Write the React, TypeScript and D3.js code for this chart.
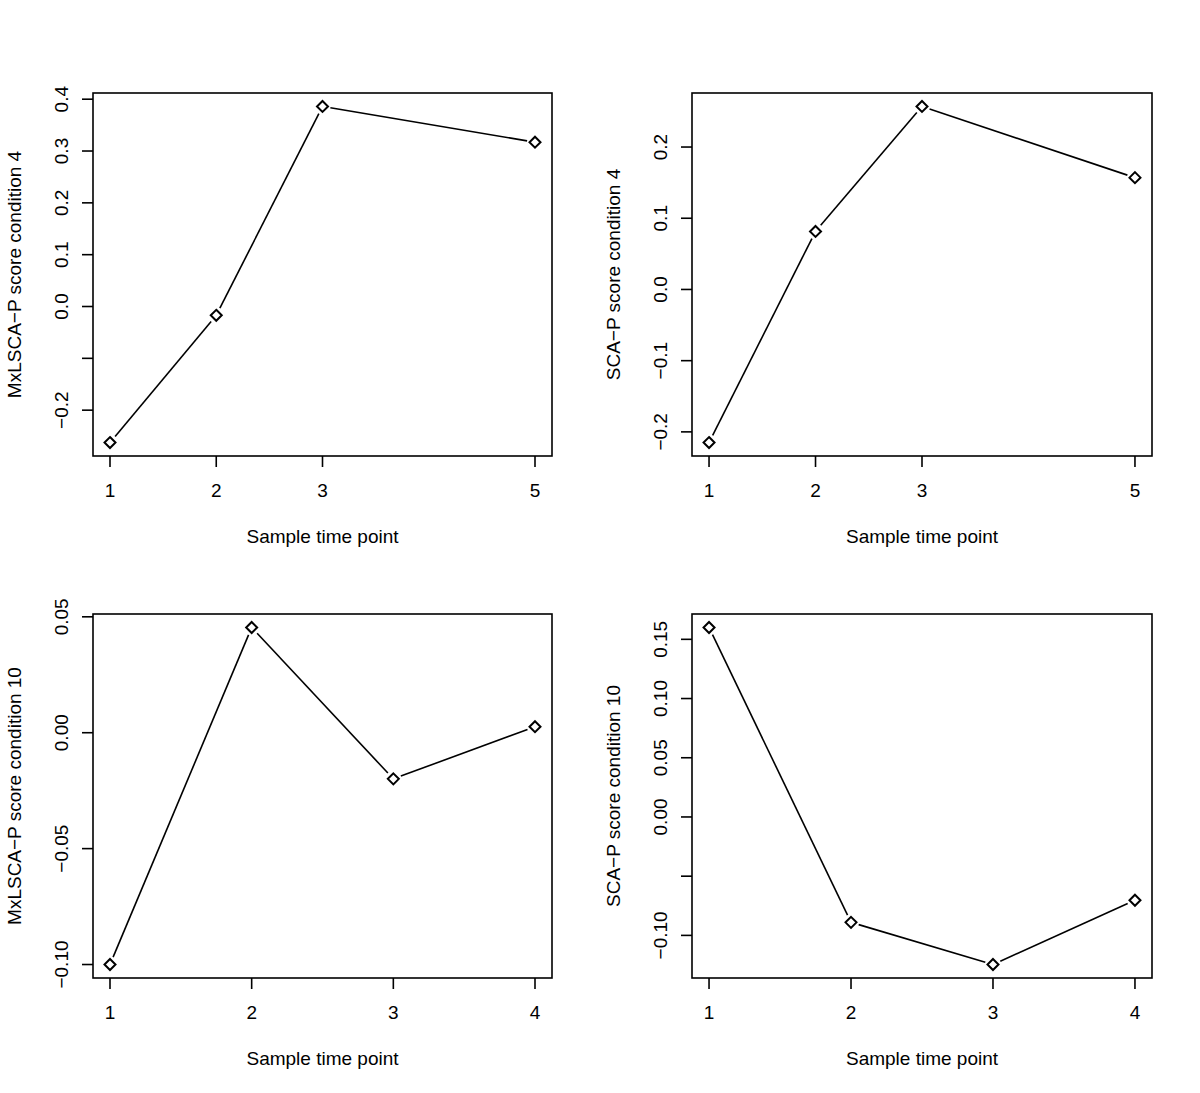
import React from "react";
import * as d3 from "d3";

// ---- data ----
const xTop = [1, 2, 3, 5];
const xBottom = [1, 2, 3, 4];
const mxlsca4 = [-0.2625, -0.017, 0.386, 0.317];
const sca4 = [-0.215, 0.0815, 0.257, 0.157];
const mxlsca10 = [-0.1, 0.0454, -0.0199, 0.0026];
const sca10 = [0.16, -0.089, -0.1246, -0.0703];

const ticksP1 = [-0.2, -0.1, 0.0, 0.1, 0.2, 0.3, 0.4];
const labelsP1 = ["−0.2", "", "0.0", "0.1", "0.2", "0.3", "0.4"];
const ticksP2 = [-0.2, -0.1, 0.0, 0.1, 0.2];
const labelsP2 = ["−0.2", "−0.1", "0.0", "0.1", "0.2"];
const ticksP3 = [-0.1, -0.05, 0.0, 0.05];
const labelsP3 = ["−0.10", "−0.05", "0.00", "0.05"];
const ticksP4 = [-0.1, -0.05, 0.0, 0.05, 0.1, 0.15];
const labelsP4 = ["−0.10", "", "0.00", "0.05", "0.10", "0.15"];

const xLabel = "Sample time point";
const yLabels = [
  "MxLSCA−P score condition 4",
  "SCA−P score condition 4",
  "MxLSCA−P score condition 10",
  "SCA−P score condition 10",
];

const FONT = "'Liberation Sans', Arial, Helvetica, sans-serif";
const FS = 19;

type PanelProps = {
  left: number;
  top: number;
  width: number;
  height: number;
  xs: number[];
  ys: number[];
  yTicks: number[];
  yTickLabels: string[];
  yTitle: string;
};

function extend(ext: [number, number]): [number, number] {
  const d = (ext[1] - ext[0]) * 0.04;
  return [ext[0] - d, ext[1] + d];
}

function Panel({ left, top, width, height, xs, ys, yTicks, yTickLabels, yTitle }: PanelProps) {
  const x = d3
    .scaleLinear()
    .domain(extend(d3.extent(xs) as [number, number]))
    .range([left, left + width]);
  const y = d3
    .scaleLinear()
    .domain(extend(d3.extent(ys) as [number, number]))
    .range([top + height, top]);
  const pts = xs.map((v, i) => [x(v), y(ys[i])]);
  const gap = 8;
  const segs: string[] = [];
  for (let i = 0; i < pts.length - 1; i++) {
    const [x1, y1] = pts[i];
    const [x2, y2] = pts[i + 1];
    const len = Math.hypot(x2 - x1, y2 - y1);
    const ux = (x2 - x1) / len;
    const uy = (y2 - y1) / len;
    const line = d3.line()([
      [x1 + ux * gap, y1 + uy * gap],
      [x2 - ux * gap, y2 - uy * gap],
    ]);
    if (line) segs.push(line);
  }
  const r = 5.5;
  const bottom = top + height;
  return (
    <g fontFamily={FONT} fontSize={FS} fill="#000">
      <rect x={left} y={top} width={width} height={height} fill="none" stroke="#000" strokeWidth={1.6} />
      {segs.map((d, i) => (
        <path key={i} d={d} stroke="#000" strokeWidth={1.6} fill="none" />
      ))}
      {pts.map(([px, py], i) => (
        <path
          key={"p" + i}
          d={`M${px},${py - r}L${px + r},${py}L${px},${py + r}L${px - r},${py}Z`}
          fill="none"
          stroke="#000"
          strokeWidth={2}
        />
      ))}
      {xs.map((v, i) => (
        <g key={"xt" + i}>
          <line x1={x(v)} x2={x(v)} y1={bottom} y2={bottom + 11} stroke="#000" strokeWidth={1.6} />
          <text x={x(v)} y={bottom + 41} textAnchor="middle">
            {String(v)}
          </text>
        </g>
      ))}
      {yTicks.map((v, i) => (
        <g key={"yt" + i}>
          <line x1={left - 11} x2={left} y1={y(v)} y2={y(v)} stroke="#000" strokeWidth={1.6} />
          {yTickLabels[i] && (
            <text transform={`translate(${left - 25},${y(v)}) rotate(-90)`} textAnchor="middle">
              {yTickLabels[i]}
            </text>
          )}
        </g>
      ))}
      <text x={left + width / 2} y={bottom + 87} textAnchor="middle">
        {xLabel}
      </text>
      <text transform={`translate(${left - 72},${top + height / 2}) rotate(-90)`} textAnchor="middle">
        {yTitle}
      </text>
    </g>
  );
}

export default function App() {
  const W = 1200;
  const H = 1093;
  const lefts = [93, 692];
  const tops = [93, 614];
  const pw = 459;
  const ph = 363;
  return (
    <svg width={W} height={H} style={{ display: "block", position: "absolute", left: 0, top: 0, background: "#fff" }}>
      <rect width={W} height={H} fill="#fff" />
      <Panel left={lefts[0]} top={tops[0]} width={pw} height={ph} xs={xTop} ys={mxlsca4} yTicks={ticksP1} yTickLabels={labelsP1} yTitle={yLabels[0]} />
      <Panel left={lefts[1]} top={tops[0]} width={pw + 1} height={ph} xs={xTop} ys={sca4} yTicks={ticksP2} yTickLabels={labelsP2} yTitle={yLabels[1]} />
      <Panel left={lefts[0]} top={tops[1]} width={pw} height={ph + 1} xs={xBottom} ys={mxlsca10} yTicks={ticksP3} yTickLabels={labelsP3} yTitle={yLabels[2]} />
      <Panel left={lefts[1]} top={tops[1]} width={pw + 1} height={ph + 1} xs={xBottom} ys={sca10} yTicks={ticksP4} yTickLabels={labelsP4} yTitle={yLabels[3]} />
    </svg>
  );
}
